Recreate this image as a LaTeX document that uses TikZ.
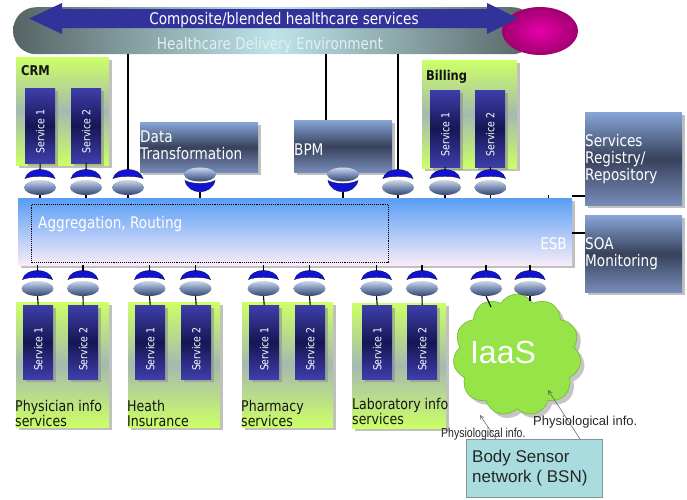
\documentclass[tikz,border=0pt]{standalone}
\usepackage{fontspec}
\setmainfont{DejaVu Sans}[FakeStretch=0.85]
\newfontfamily\boldlbl{DejaVu Sans Bold}[FakeStretch=0.85]
\newfontfamily\arialf{Liberation Sans}
\usetikzlibrary{shapes.symbols,shapes.geometric,shadows,calc,arrows.meta}

\definecolor{capblue}{RGB}{18,18,210}
\definecolor{capdark}{RGB}{10,10,90}
\definecolor{elltop}{RGB}{205,215,232}
\definecolor{ellmid}{RGB}{120,140,180}
\definecolor{ellbot}{RGB}{55,70,105}
\definecolor{limeg}{RGB}{204,255,102}
\definecolor{limemid}{RGB}{165,185,175}
\definecolor{navya}{RGB}{62,62,170}
\definecolor{navyb}{RGB}{22,22,85}
\definecolor{steela}{RGB}{135,165,215}
\definecolor{steelb}{RGB}{55,65,90}
\definecolor{steelc}{RGB}{120,140,185}
\definecolor{esbtop}{RGB}{88,158,245}
\definecolor{esbbot}{RGB}{248,236,248}
\definecolor{bandark}{RGB}{85,100,100}
\definecolor{banlight}{RGB}{190,228,234}
\definecolor{arrowblue}{RGB}{50,50,155}
\definecolor{magin}{RGB}{230,0,170}
\definecolor{magout}{RGB}{160,0,110}
\definecolor{cloudg}{RGB}{150,228,72}
\definecolor{cloudd}{RGB}{115,185,55}
\definecolor{bsnfill}{RGB}{168,220,222}
\definecolor{bsnedge}{RGB}{125,150,150}
\definecolor{lbltext}{RGB}{20,20,20}
\definecolor{hdetext}{RGB}{225,240,240}
\definecolor{arrgray}{RGB}{90,90,90}

\tikzset{
  conn/.pic={
    \fill[capblue, draw=capdark, line width=0.4pt]
      (-15,-9) .. controls (-12,-21) and (12,-21) .. (15,-9)
      .. controls (8,-12) and (-8,-12) .. (-15,-9) -- cycle;
    \shade[top color=elltop, bottom color=ellbot, middle color=ellmid]
      (0,0) ellipse [x radius=16pt, y radius=7.5pt];
    \coordinate (-top) at (0,-17.5);
    \coordinate (-bot) at (0,7.5);
  },
  conninv/.pic={
    \fill[capblue, draw=capdark, line width=0.4pt]
      (-15,6) .. controls (-12,21) and (12,21) .. (15,6)
      .. controls (8,10) and (-8,10) .. (-15,6) -- cycle;
    \shade[top color=elltop, bottom color=ellbot, middle color=ellmid]
      (0,0) ellipse [x radius=16pt, y radius=7pt];
    \coordinate (-top) at (0,-7);
    \coordinate (-bot) at (0,17.5);
  },
  shad/.style={drop shadow={shadow xshift=3pt, shadow yshift=-3pt, fill=black!45, opacity=0.55}},
  grp/.style={shad, anchor=north west, inner sep=0pt, top color=limeg, bottom color=limeg, middle color=limemid},
  svc/.style={shad, anchor=north west, inner sep=0pt, minimum width=30pt, top color=navya, bottom color=navya, middle color=navyb},
  steel/.style={shad, anchor=north west, inner sep=0pt, top color=steela, bottom color=steelc, middle color=steelb},
  svclbl/.style={rotate=90, text=white, inner sep=0pt, font=\fontsize{11}{12}\selectfont},
  wlbl/.style={text=white, inner sep=0pt, align=left, font=\fontsize{16}{17}\selectfont},
  glbl/.style={text=lbltext, inner sep=0pt, align=left, anchor=west, font=\fontsize{14.8}{15}\selectfont},
  blbl/.style={text=lbltext, inner sep=0pt, anchor=west, font=\boldlbl\fontsize{13.5}{14}\selectfont},
  stem/.style={line width=1.1pt, black},
  phys/.style={text=black!85, inner sep=0pt, anchor=west, font=\arialf\fontsize{13}{14}\selectfont},
  infoarrow/.style={arrgray, line width=0.5pt, -{Straight Barb[length=4pt,width=4pt]}}
}

\begin{document}
\begin{tikzpicture}[x=1pt,y=-1pt]
\useasboundingbox (0,0) rectangle (687,499);

% ---------- banner ----------
\node[anchor=north west, inner sep=0pt, minimum width=522pt, minimum height=47pt,
      rounded corners=23pt, left color=bandark, right color=bandark, middle color=banlight]
      (banner) at (13,7) {};
\node[ellipse, inner sep=0pt, minimum width=76pt, minimum height=48pt,
      inner color=magin, outer color=magout] (mag) at (540,31) {};
\fill[arrowblue] (29,18.5) -- (62,3) -- (62,9) -- (487,9) -- (487,3) -- (518,18.5)
  -- (487,34) -- (487,28) -- (62,28) -- (62,34) -- cycle;
\node[wlbl] (comp) at (284,20) {Composite/blended healthcare services};
\node[wlbl, text=hdetext] (hde) at (270,45) {Healthcare Delivery Environment};

% ---------- top groups ----------
\node[grp, minimum width=93pt, minimum height=108pt] (crm) at (16,57) {};
\node[blbl] (crmt) at (21,71) {CRM};
\node[svc, minimum height=75pt] (crm1) at (25,88) {};
\node[svc, minimum height=75pt] (crm2) at (71,88) {};
\node[svclbl] (crm1t) at ($(crm1.center)+(0,6)$) {Service 1};
\node[svclbl] (crm2t) at ($(crm2.center)+(0,6)$) {Service 2};

\node[grp, minimum width=95pt, minimum height=108pt] (bil) at (422,60) {};
\node[blbl] (bilt) at (426,77) {Billing};
\node[svc, minimum height=77pt] (bil1) at (430,90) {};
\node[svc, minimum height=77pt] (bil2) at (475,90) {};
\node[svclbl] (bil1t) at ($(bil1.center)+(0,6)$) {Service 1};
\node[svclbl] (bil2t) at ($(bil2.center)+(0,6)$) {Service 2};

\node[steel, minimum width=118pt, minimum height=50pt] (dt) at (140,122) {};
\node[wlbl, anchor=west] (dtt) at (140,145) {Data\\Transformation};
\node[steel, minimum width=98pt, minimum height=52pt] (bpm) at (294,120) {};
\node[wlbl, anchor=west] (bpmt) at (294,150) {BPM};

\node[steel, minimum width=97pt, minimum height=93pt] (reg) at (585,112) {};
\node[wlbl, anchor=west] (regt) at (585,159) {Services\\Registry/\\Repository};
\node[steel, minimum width=97pt, minimum height=77pt] (soa) at (585,215) {};
\node[wlbl, anchor=west] (soat) at (585,253.5) {SOA\\Monitoring};

% ---------- ESB ----------
\node[shad, anchor=north west, inner sep=0pt, minimum width=554pt, minimum height=67pt,
      top color=esbtop, bottom color=esbbot] (esb) at (18,198) {};
\node[draw=black, densely dotted, line width=1.1pt, anchor=north west, inner sep=0pt,
      minimum width=357pt, minimum height=58pt] (agg) at (31,204) {};
\node[wlbl, anchor=west] (aggt) at (38,224) {Aggregation, Routing};
\node[wlbl, anchor=east] (esbt) at (567,244) {ESB};

% ---------- top connectors ----------
\pic (c1) at (40,187.5) {conn};
\pic (c2) at (86,187.5) {conn};
\pic (c3) at (128,187.5) {conn};
\pic (c4) at (200,174.5) {conninv};
\pic (c5) at (343,174.5) {conninv};
\pic (c6) at (398,187.5) {conn};
\pic (c7) at (445,187.5) {conn};
\pic (c8) at (490.5,187.5) {conn};

\draw[stem] (crm1.south) -- (c1-top);
\draw[stem] (crm2.south) -- (c2-top);
\draw[stem] (c3-top |- banner.south) -- (c3-top);
\draw[stem] (c6-top |- banner.south) -- (c6-top);
\coordinate (bpmtop) at (326,120);
\draw[stem] (bpmtop |- banner.south) -- (bpmtop);
\draw[stem] (bil1.south) -- (c7-top);
\draw[stem] (bil2.south) -- (c8-top);
\foreach \c in {c1,c2,c3,c4,c5,c6,c7,c8}{
  \draw[stem] (\c-bot) -- (\c-bot |- esb.north);
}
\draw[stem] ([xshift=-24pt]esb.north east) -- ++(0,-3);
\draw[stem] ([yshift=2pt]esb.north east) -- ([yshift=2pt]esb.north east -| reg.west);
\draw[stem] ([yshift=-18pt]soa.north west) -- ([yshift=-18pt]soa.north west -| esb.east);

% ---------- bottom groups ----------
\node[grp, minimum width=93pt, minimum height=125pt] (phy) at (16,302) {};
\node[svc, minimum height=74pt] (phy1) at (23,305) {};
\node[svc, minimum height=74pt] (phy2) at (68,305) {};
\node[glbl] (phyt) at (15,413.5) {Physician info\\services};

\node[grp, minimum width=92pt, minimum height=125pt] (hea) at (128,302) {};
\node[svc, minimum height=74pt] (hea1) at (135,305) {};
\node[svc, minimum height=74pt] (hea2) at (181,305) {};
\node[glbl] (heat) at (127,413.5) {Heath\\Insurance};

\node[grp, minimum width=91pt, minimum height=125pt] (pha) at (242,302) {};
\node[svc, minimum height=74pt] (pha1) at (249,305) {};
\node[svc, minimum height=74pt] (pha2) at (295,305) {};
\node[glbl] (phat) at (241,413.5) {Pharmacy\\services};

\node[grp, minimum width=94pt, minimum height=125pt] (lab) at (352,303) {};
\node[svc, minimum height=74pt] (lab1) at (362,305) {};
\node[svc, minimum height=74pt] (lab2) at (407,305) {};
\node[glbl] (labt) at (352,411) {Laboratory info\\services};

\foreach \s/\n in {phy1/1,phy2/2,hea1/1,hea2/2,pha1/1,pha2/2,lab1/1,lab2/2}{
  \node[svclbl] (\s t) at ($(\s.center)+(0,7)$) {Service \n};
}

% ---------- cloud ----------
\node[cloud, cloud puffs=11, cloud puff arc=120, aspect=1.05, inner sep=0pt,
      minimum width=128pt, minimum height=122pt, fill=cloudg, draw=cloudd, line width=0.6pt,
      drop shadow={shadow xshift=4pt, shadow yshift=-4pt, fill=black!45, opacity=0.5}]
      (iaas) at (517,355) {};
\node[text=white, inner sep=0pt, font=\arialf\fontsize{32}{34}\selectfont] (iaast) at (503,352) {IaaS};

% ---------- bottom connectors ----------
\pic (d1) at (37.5,288.5) {conn};
\pic (d2) at (83,288.5) {conn};
\pic (d3) at (149.5,288.5) {conn};
\pic (d4) at (195.5,288.5) {conn};
\pic (d5) at (263.5,288.5) {conn};
\pic (d6) at (309.5,288.5) {conn};
\pic (d7) at (376.5,288.5) {conn};
\pic (d8) at (422,288.5) {conn};
\pic (d9) at (486,288.5) {conn};
\pic (d10) at (530,288.5) {conn};
\foreach \d in {d1,d2,d3,d4,d5,d6,d7,d8,d9,d10}{
  \draw[stem] (\d-top |- esb.south) -- (\d-top);
}
\draw[stem] (d1-bot) -- (phy1.north);
\draw[stem] (d2-bot) -- (phy2.north);
\draw[stem] (d3-bot) -- (hea1.north);
\draw[stem] (d4-bot) -- (hea2.north);
\draw[stem] (d5-bot) -- (pha1.north);
\draw[stem] (d6-bot) -- (pha2.north);
\draw[stem] (d7-bot) -- (lab1.north);
\draw[stem] (d8-bot) -- (lab2.north);
\coordinate (ct1) at (491,307);
\coordinate (ct2) at (530,301);
\draw[stem] (d9-bot) -- (ct1);
\draw[stem] (d10-bot) -- (ct2);

% ---------- BSN ----------
\node[anchor=north west, inner sep=0pt, minimum width=136pt, minimum height=58pt,
      fill=bsnfill, draw=bsnedge, line width=0.8pt] (bsn) at (466,439) {};
\node[anchor=west, inner sep=0pt, align=left, text=black!85,
      font=\arialf\fontsize{17}{20}\selectfont] (bsnt) at (472,468) {Body Sensor\\network ( BSN)};
\coordinate (tip1) at (480,415);
\coordinate (tip2) at (548,390);
\draw[infoarrow] ([xshift=30pt]bsn.north west) -- (tip1);
\draw[infoarrow] ([xshift=114pt]bsn.north west) -- (tip2);
\node[phys] (ph2) at (533,422) {Physiological info.};
\node[phys] (ph1) at (441,434) {\scalebox{0.81}[1]{Physiological info.}};
\end{tikzpicture}
\end{document}
